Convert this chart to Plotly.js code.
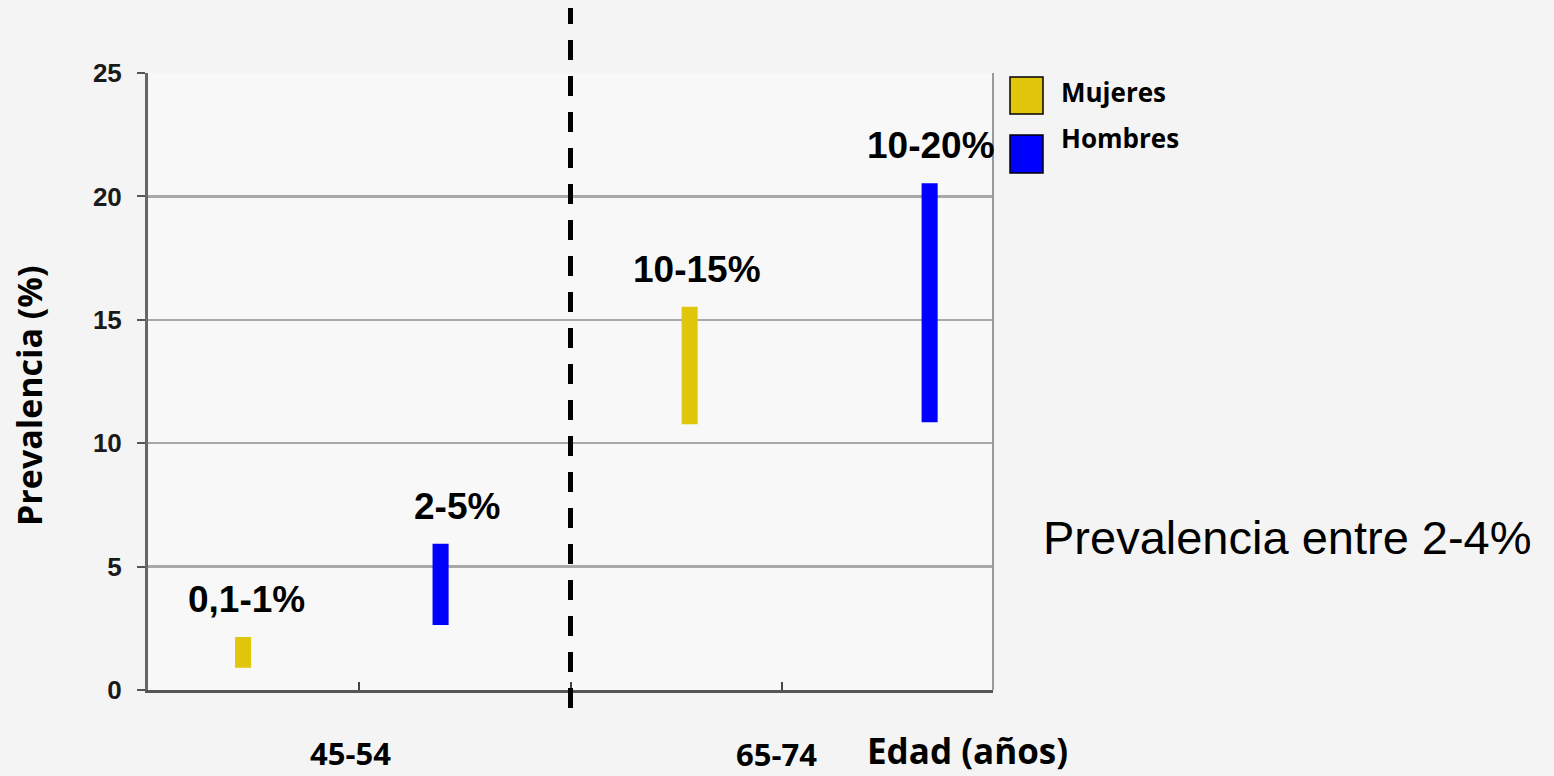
<!DOCTYPE html>
<html><head><meta charset="utf-8">
<script src="https://cdn.plot.ly/plotly-3.0.1.min.js"></script>
<style>html,body{margin:0;padding:0;background:#f4f4f4;}#chart{width:1554px;height:776px;}</style>
</head><body><div id="chart"></div>
<script>
// Data
const groups = ['Mujeres', 'Hombres', 'Mujeres', 'Hombres'];
const barPos = [0.45, 1.385, 2.564, 3.70];           // x position on the age axis (0–4)
const lowVals = [0.9, 2.63, 10.77, 10.85];
const highVals = [2.15, 5.93, 15.53, 20.53];
const rangeLabels = ['0,1-1%', '2-5%', '10-15%', '10-20%'];
const ageTickVals = [0, 1, 2, 3, 4];
const ageLabels = ['45-54', '65-74'];
const ageLabelAt = [1, 3];
const yTickVals = [0, 5, 10, 15, 20, 25];
const colors = {Mujeres: '#e0c70c', Hombres: '#0000ff'};
const dividerAt = 2;

const traces = ['Mujeres', 'Hombres'].map(g => {
  const idx = groups.map((v, i) => v === g ? i : -1).filter(i => i >= 0);
  return {
    type: 'bar', name: g,
    x: idx.map(i => barPos[i]),
    y: idx.map(i => highVals[i] - lowVals[i]),
    base: idx.map(i => lowVals[i]),
    width: 0.076,
    marker: {color: colors[g], line: {width: 0}},
    hoverinfo: 'skip', showlegend: false
  };
});

// plot-area pixel frame helpers
const L = 148, R = 993, T = 73, B = 690;
function px2paperX(px) { return (px - L) / (R - L); }
function px2paperY(py) { return (B - py) / (B - T); }

const labelShift = [3, 16, 7, 1];
const annotations = rangeLabels.map((t, i) => ({
  x: barPos[i], y: highVals[i], xref: 'x', yref: 'y',
  text: '<b>' + t + '</b>', showarrow: false, xanchor: 'center', yanchor: 'bottom', yshift: 15,
  xshift: labelShift[i],
  font: {family: 'Liberation Sans, Arial, sans-serif', size: 37, color: '#000'}
}));
const ageShift = [[-9, 0], [-5, 1]];
ageLabels.forEach((t, i) => annotations.push({
  x: ageLabelAt[i], y: px2paperY(753 + ageShift[i][1]), xref: 'x', yref: 'paper', xshift: ageShift[i][0],
  text: '<b>' + t + '</b>', showarrow: false, xanchor: 'center', yanchor: 'middle',
  font: {family: 'Open Sans, sans-serif', size: 31, color: '#000'}
}));
const freeText = [
  {px: 967, py: 750, text: '<b>Edad (años)</b>', size: 35, family: 'Open Sans, sans-serif', anchor: 'center'},
  {px: 1287, py: 537, text: 'Prevalencia entre 2-4%', size: 47, family: 'Liberation Sans, Arial, sans-serif', anchor: 'center'},
  {px: 1059, py: 92, text: '<b>Mujeres</b>', size: 26, family: 'Open Sans, sans-serif', anchor: 'left'},
  {px: 1059, py: 138, text: '<b>Hombres</b>', size: 26, family: 'Open Sans, sans-serif', anchor: 'left'},
  {px: 29, py: 396, text: '<b>Prevalencia (%)</b>', size: 34, family: 'Open Sans, sans-serif', anchor: 'center', angle: -90}
];
freeText.forEach(f => annotations.push({
  x: px2paperX(f.px), y: px2paperY(f.py), xref: 'paper', yref: 'paper', text: f.text, showarrow: false,
  xanchor: f.anchor, yanchor: 'middle', textangle: f.angle || 0,
  font: {family: f.family, size: f.size, color: '#000'}
}));

const shapes = [
  {type: 'line', xref: 'paper', yref: 'paper', x0: 1, x1: 1, y0: 0, y1: 1, line: {color: '#9a9a9a', width: 2}},
  {type: 'line', xref: 'x', yref: 'paper', x0: dividerAt, x1: dividerAt, y0: px2paperY(708), y1: px2paperY(8),
   line: {color: '#000', width: 5, dash: '20px,16px'}},
  {type: 'rect', xref: 'paper', yref: 'paper', x0: px2paperX(1010), x1: px2paperX(1043), y0: px2paperY(114), y1: px2paperY(77),
   fillcolor: colors.Mujeres, line: {color: '#000', width: 1.5}},
  {type: 'rect', xref: 'paper', yref: 'paper', x0: px2paperX(1010), x1: px2paperX(1043), y0: px2paperY(173), y1: px2paperY(135),
   fillcolor: colors.Hombres, line: {color: '#000', width: 1.5}}
];

const layout = {
  width: 1554, height: 776,
  margin: {l: L, r: 1554 - R, t: T, b: 776 - B, pad: 0},
  paper_bgcolor: '#f4f4f4', plot_bgcolor: '#f8f8f8',
  showlegend: false,
  xaxis: {range: [0, 4], tickvals: ageTickVals, ticktext: ['', '', '', '', ''],
    ticks: 'inside', ticklen: 8, tickwidth: 2, tickcolor: '#444',
    showline: true, linecolor: '#555', linewidth: 3, showgrid: false, zeroline: false, fixedrange: true},
  yaxis: {range: [0, 25], tickvals: yTickVals, ticks: 'outside', ticklen: 8, tickwidth: 2, tickcolor: '#555',
    showline: true, linecolor: '#666', linewidth: 3, showgrid: true, gridcolor: '#a8a8a8', gridwidth: 2.5,
    zeroline: false, ticklabelstandoff: 10,
    tickfont: {family: 'Liberation Sans, Arial, sans-serif', size: 26, color: '#1a1a1a', weight: 'bold'}},
  annotations: annotations, shapes: shapes
};

Plotly.newPlot('chart', traces, layout, {displayModeBar: false, staticPlot: true});
</script></body></html>
